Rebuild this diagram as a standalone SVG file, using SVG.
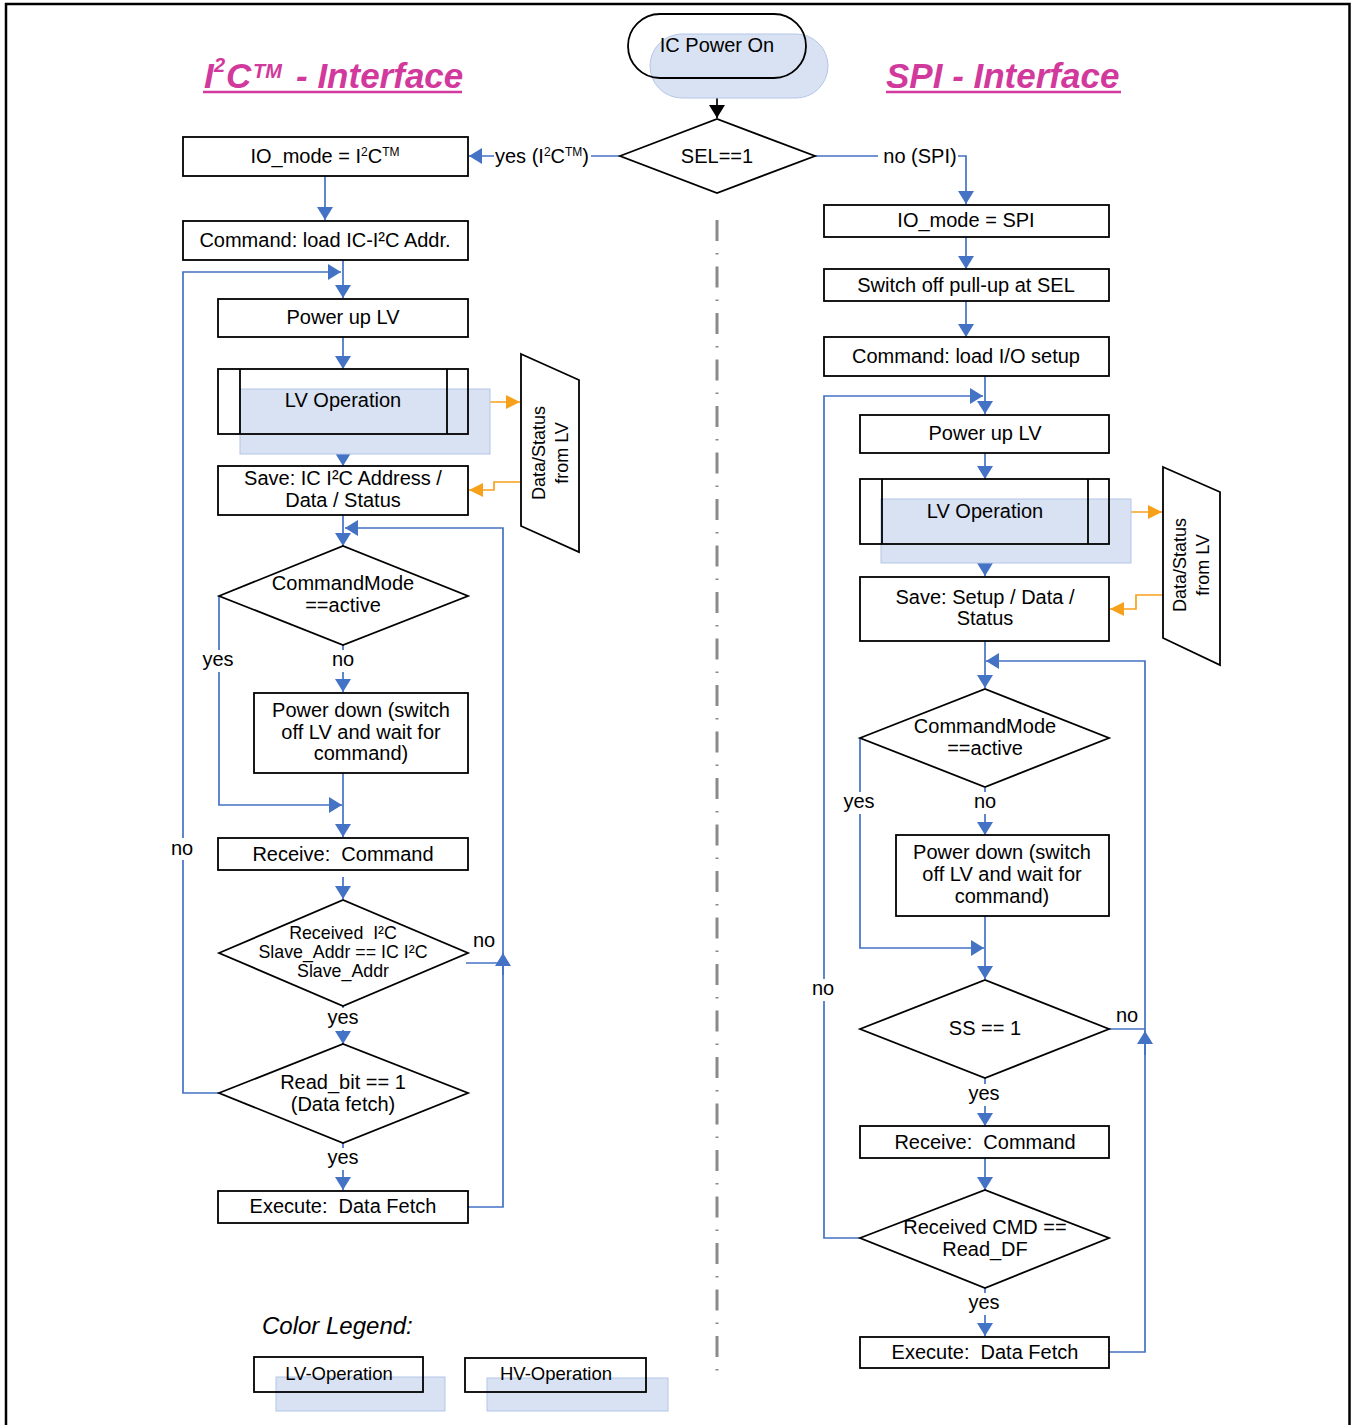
<svg xmlns="http://www.w3.org/2000/svg" width="1352" height="1425" viewBox="0 0 1352 1425">
<defs>
<style>
.t{font-family:"Liberation Sans",Arial,Helvetica,sans-serif;font-size:20px;fill:#000;text-anchor:middle;white-space:pre}
.ts{font-size:17.8px}
.box{fill:#fff;stroke:#000;stroke-width:1.8}
.nb{fill:none;stroke:#000;stroke-width:1.8}
.ov{fill:#d9e2f3;stroke:#b4c6e7;stroke-width:1}
.c{fill:none;stroke:#4472c4;stroke-width:1.7}
.o{fill:none;stroke:#f7a11a;stroke-width:1.7}
.bg{fill:#fff}
.title{font-family:"Liberation Sans",Arial,Helvetica,sans-serif;font-size:35px;font-weight:bold;font-style:italic;fill:#d2399c}
</style>
<marker id="ab" viewBox="0 0 13 16" refX="13" refY="8" markerWidth="13" markerHeight="16" markerUnits="userSpaceOnUse" orient="auto"><path d="M0,0 L13,8 L0,16 z" fill="#4472c4"/></marker>
<marker id="ao" viewBox="0 0 14 14" refX="14" refY="7" markerWidth="14" markerHeight="14" markerUnits="userSpaceOnUse" orient="auto"><path d="M0,0 L14,7 L0,14 z" fill="#f7a11a"/></marker>
<marker id="ak" viewBox="0 0 13 16" refX="13" refY="8" markerWidth="13" markerHeight="16" markerUnits="userSpaceOnUse" orient="auto"><path d="M0,0 L13,8 L0,16 z" fill="#000"/></marker>
</defs>
<rect width="1352" height="1425" fill="#fff"/>
<path d="M6,1425 V4 H1349.5 V1425" fill="none" stroke="#000" stroke-width="2.5"/>
<line x1="717" y1="220" x2="717" y2="1372" stroke="#8a8a8a" stroke-width="3" stroke-dasharray="21 12 1.5 12"/>

<g id="titles">
<text class="title" y="88"><tspan x="204">I</tspan><tspan x="214" y="72" font-size="20">2</tspan><tspan x="226" y="88">C</tspan><tspan x="253" y="78" font-size="20">TM</tspan><tspan x="296" y="88">- Interface</tspan></text>
<line x1="203" y1="92" x2="462" y2="92" stroke="#d2399c" stroke-width="2.5"/>
<text class="title" x="886" y="88">SPI - Interface</text>
<line x1="886" y1="92" x2="1121" y2="92" stroke="#d2399c" stroke-width="2.5"/>
</g>

<g id="connectors">
<path class="c" d="M717,78 V118" style="stroke:#000" marker-end="url(#ak)"/>
<path class="c" d="M620,156 H469" marker-end="url(#ab)"/>
<path class="c" d="M815,156 H966 V204" marker-end="url(#ab)"/>
<path class="c" d="M325,176 V220" marker-end="url(#ab)"/>
<path class="c" d="M343,260 V298" marker-end="url(#ab)"/>
<path class="c" d="M219,1093 H183 V272 H341" marker-end="url(#ab)"/>
<path class="c" d="M343,337 V369" marker-end="url(#ab)"/>
<path class="c" d="M343,434 V466" marker-end="url(#ab)"/>
<path class="o" d="M468,402 H520" marker-end="url(#ao)"/>
<path class="o" d="M521,482 H494 V490 H469" marker-end="url(#ao)"/>
<path class="c" d="M343,515 V546" marker-end="url(#ab)"/>
<path class="c" d="M468,1207 H503 V528 H345" marker-end="url(#ab)"/>
<path class="c" d="M503,975 V953" marker-end="url(#ab)"/>
<path class="c" d="M466,963 H503"/>
<path class="c" d="M219,596 V805 H342" marker-end="url(#ab)"/>
<path class="c" d="M343,645 V692" marker-end="url(#ab)"/>
<path class="c" d="M343,773 V837" marker-end="url(#ab)"/>
<path class="c" d="M343,877 V899" marker-end="url(#ab)"/>
<path class="c" d="M343,1006 V1044" marker-end="url(#ab)"/>
<path class="c" d="M343,1143 V1190" marker-end="url(#ab)"/>

<path class="c" d="M966,237 V269" marker-end="url(#ab)"/>
<path class="c" d="M966,301 V337" marker-end="url(#ab)"/>
<path class="c" d="M985,376 V414" marker-end="url(#ab)"/>
<path class="c" d="M860,1238 H824 V396 H983" marker-end="url(#ab)"/>
<path class="c" d="M985,453 V479" marker-end="url(#ab)"/>
<path class="c" d="M985,544 V576" marker-end="url(#ab)"/>
<path class="o" d="M1109,512 H1162" marker-end="url(#ao)"/>
<path class="o" d="M1163,595 H1136 V609 H1110" marker-end="url(#ao)"/>
<path class="c" d="M985,641 V688" marker-end="url(#ab)"/>
<path class="c" d="M1109,1352 H1145 V661 H986" marker-end="url(#ab)"/>
<path class="c" d="M1145,1055 V1031" marker-end="url(#ab)"/>
<path class="c" d="M1109,1029 H1145"/>
<path class="c" d="M860,738 V948 H984" marker-end="url(#ab)"/>
<path class="c" d="M985,788 V835" marker-end="url(#ab)"/>
<path class="c" d="M985,916 V979" marker-end="url(#ab)"/>
<path class="c" d="M985,1078 V1126" marker-end="url(#ab)"/>
<path class="c" d="M985,1158 V1190" marker-end="url(#ab)"/>
<path class="c" d="M985,1288 V1336" marker-end="url(#ab)"/>

<rect class="bg" x="494" y="143" width="97" height="26"/>
<text class="t" x="542" y="163">yes (I<tspan dy="-7" font-size="12">2</tspan><tspan dy="7">C</tspan><tspan dy="-7" font-size="12">TM</tspan><tspan dy="7">)</tspan></text>
<rect class="bg" x="878" y="144" width="80" height="26"/>
<text class="t" x="920" y="163">no (SPI)</text>
<rect class="bg" x="202" y="650" width="33" height="22"/>
<text class="t" x="218" y="666">yes</text>
<rect class="bg" x="331" y="650" width="24" height="22"/>
<text class="t" x="343" y="666">no</text>
<rect class="bg" x="170" y="838" width="24" height="22"/>
<text class="t" x="182" y="855">no</text>
<text class="t" x="484" y="947">no</text>
<rect class="bg" x="327" y="1008" width="33" height="22"/>
<text class="t" x="343" y="1024">yes</text>
<rect class="bg" x="327" y="1148" width="33" height="22"/>
<text class="t" x="343" y="1164">yes</text>

<rect class="bg" x="843" y="792" width="33" height="22"/>
<text class="t" x="859" y="808">yes</text>
<rect class="bg" x="973" y="792" width="24" height="22"/>
<text class="t" x="985" y="808">no</text>
<rect class="bg" x="811" y="979" width="24" height="22"/>
<text class="t" x="823" y="995">no</text>
<text class="t" x="1127" y="1022">no</text>
<rect class="bg" x="968" y="1084" width="33" height="22"/>
<text class="t" x="984" y="1100">yes</text>
<rect class="bg" x="968" y="1293" width="33" height="22"/>
<text class="t" x="984" y="1309">yes</text>
</g>

<g id="ic-power-on">
<rect class="ov" x="650" y="34" width="178" height="64" rx="32"/>
<rect class="nb" x="628" y="14" width="178" height="64" rx="32"/>
<text class="t" x="717" y="52">IC Power On</text>
</g>
<g id="sel">
<polygon class="box" points="620,156 717,119 815,156 717,193"/>
<text class="t" x="717" y="163">SEL==1</text>
</g>

<g id="io-mode-i2c">
<rect class="box" x="183" y="137" width="285" height="39"/>
<text class="t" x="325" y="163">IO_mode = I<tspan dy="-7" font-size="12">2</tspan><tspan dy="7">C</tspan><tspan dy="-7" font-size="12">TM</tspan></text>
</g>
<g id="cmd-load-i2c">
<rect class="box" x="183" y="221" width="285" height="39"/>
<text class="t" x="325" y="247">Command: load IC-I²C Addr.</text>
</g>
<g id="power-up-lv-l">
<rect class="box" x="218" y="299" width="250" height="38"/>
<text class="t" x="343" y="324">Power up LV</text>
</g>
<g id="lv-op-l">
<rect class="ov" x="240" y="389" width="250" height="65"/>
<rect class="nb" x="218" y="369" width="250" height="65"/>
<line x1="240" y1="369" x2="240" y2="434" stroke="#000" stroke-width="1.8"/>
<line x1="447" y1="369" x2="447" y2="434" stroke="#000" stroke-width="1.8"/>
<text class="t" x="343" y="407">LV Operation</text>
</g>
<g id="save-l">
<rect class="box" x="218" y="466" width="250" height="49"/>
<text class="t" x="343" y="485">Save: IC I²C Address /</text>
<text class="t" x="343" y="507">Data / Status</text>
</g>
<g id="data-status-l">
<polygon points="521,354 579,380 579,552 521,526" fill="#fff" stroke="#000" stroke-width="1.8"/>
<text class="t" transform="translate(550,453) rotate(-90)" style="font-size:18px"><tspan x="0" y="-5">Data/Status</tspan><tspan x="0" y="18">from LV</tspan></text>
</g>
<g id="cmdmode-l">
<polygon class="box" points="219,596 343,546 468,596 343,645"/>
<text class="t" x="343" y="590">CommandMode</text>
<text class="t" x="343" y="612">==active</text>
</g>
<g id="power-down-l">
<rect class="box" x="254" y="693" width="214" height="80"/>
<text class="t" x="361" y="717">Power down (switch</text>
<text class="t" x="361" y="739">off LV and wait for</text>
<text class="t" x="361" y="760">command)</text>
</g>
<g id="receive-l">
<rect class="box" x="218" y="838" width="250" height="32"/>
<text class="t" x="343" y="861">Receive:  Command</text>
</g>
<g id="slave-addr-l">
<polygon class="box" points="219,953 343,900 468,953 343,1006"/>
<text class="t ts" x="343" y="939">Received  I²C</text>
<text class="t ts" x="343" y="958">Slave_Addr == IC I²C</text>
<text class="t ts" x="343" y="977">Slave_Addr</text>
</g>
<g id="read-bit-l">
<polygon class="box" points="219,1093 343,1044 468,1093 343,1143"/>
<text class="t" x="343" y="1089">Read_bit == 1</text>
<text class="t" x="343" y="1111">(Data fetch)</text>
</g>
<g id="execute-l">
<rect class="box" x="218" y="1191" width="250" height="32"/>
<text class="t" x="343" y="1213">Execute:  Data Fetch</text>
</g>

<g id="io-mode-spi">
<rect class="box" x="824" y="205" width="285" height="32"/>
<text class="t" x="966" y="227">IO_mode = SPI</text>
</g>
<g id="switch-off">
<rect class="box" x="824" y="269" width="285" height="32"/>
<text class="t" x="966" y="292">Switch off pull-up at SEL</text>
</g>
<g id="cmd-load-io">
<rect class="box" x="824" y="337" width="285" height="39"/>
<text class="t" x="966" y="363">Command: load I/O setup</text>
</g>
<g id="power-up-lv-r">
<rect class="box" x="860" y="415" width="249" height="38"/>
<text class="t" x="985" y="440">Power up LV</text>
</g>
<g id="lv-op-r">
<rect class="ov" x="881" y="499" width="250" height="64"/>
<rect class="nb" x="860" y="479" width="249" height="65"/>
<line x1="882" y1="479" x2="882" y2="544" stroke="#000" stroke-width="1.8"/>
<line x1="1088" y1="479" x2="1088" y2="544" stroke="#000" stroke-width="1.8"/>
<text class="t" x="985" y="518">LV Operation</text>
</g>
<g id="save-r">
<rect class="box" x="860" y="577" width="249" height="64"/>
<text class="t" x="985" y="604">Save: Setup / Data /</text>
<text class="t" x="985" y="625">Status</text>
</g>
<g id="data-status-r">
<polygon points="1163,467 1220,492 1220,665 1163,638" fill="#fff" stroke="#000" stroke-width="1.8"/>
<text class="t" transform="translate(1190,565) rotate(-90)" style="font-size:18px"><tspan x="0" y="-4">Data/Status</tspan><tspan x="0" y="19">from LV</tspan></text>
</g>
<g id="cmdmode-r">
<polygon class="box" points="860,738 985,689 1109,738 985,787"/>
<text class="t" x="985" y="733">CommandMode</text>
<text class="t" x="985" y="755">==active</text>
</g>
<g id="power-down-r">
<rect class="box" x="896" y="835" width="213" height="81"/>
<text class="t" x="1002" y="859">Power down (switch</text>
<text class="t" x="1002" y="881">off LV and wait for</text>
<text class="t" x="1002" y="903">command)</text>
</g>
<g id="ss">
<polygon class="box" points="860,1029 985,980 1109,1029 985,1078"/>
<text class="t" x="985" y="1035">SS == 1</text>
</g>
<g id="receive-r">
<rect class="box" x="860" y="1126" width="249" height="32"/>
<text class="t" x="985" y="1149">Receive:  Command</text>
</g>
<g id="read-df">
<polygon class="box" points="860,1238 985,1190 1109,1238 985,1288"/>
<text class="t" x="985" y="1234">Received CMD ==</text>
<text class="t" x="985" y="1256">Read_DF</text>
</g>
<g id="execute-r">
<rect class="box" x="860" y="1337" width="249" height="31"/>
<text class="t" x="985" y="1359">Execute:  Data Fetch</text>
</g>

<g id="legend">
<text class="t" x="262" y="1334" style="text-anchor:start;font-style:italic;font-size:24px">Color Legend:</text>
<rect class="ov" x="276" y="1377" width="169" height="34"/>
<rect class="nb" x="254" y="1357" width="169" height="35"/>
<text class="t" x="339" y="1380" style="font-size:18.5px">LV-Operation</text>
<rect class="ov" x="487" y="1378" width="181" height="33"/>
<rect class="nb" x="465" y="1358" width="181" height="34"/>
<text class="t" x="556" y="1380" style="font-size:18.5px">HV-Operation</text>
</g>
</svg>
